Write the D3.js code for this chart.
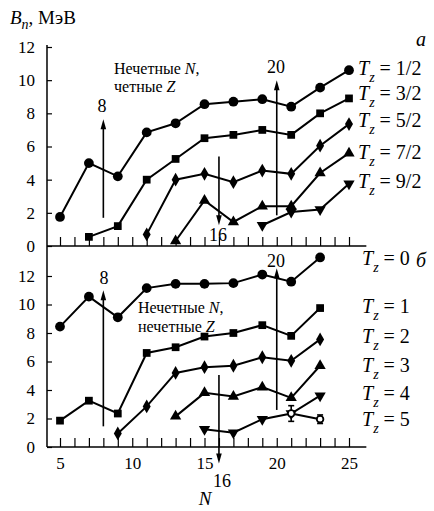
<!DOCTYPE html>
<html>
<head>
<meta charset="utf-8">
<script src="https://cdn.jsdelivr.net/npm/d3@7"></script>
<style>
  html, body { margin: 0; padding: 0; background: #fff; }
  svg { display: block; }
  text { font-family: "Liberation Serif", "Times New Roman", "DejaVu Serif", serif; }
</style>
</head>
<body>
<div id="chart"></div>
<script>
// panel a: odd N, even Z
const nA12 = [5, 7, 9, 11, 13, 15, 17, 19, 21, 23, 25]
const bA12 = [1.75, 5.0, 4.2, 6.85, 7.4, 8.55, 8.7, 8.85, 8.4, 9.55, 10.6]
const nA32 = [7, 9, 11, 13, 15, 17, 19, 21, 23, 25]
const bA32 = [0.55, 1.2, 4.0, 5.25, 6.5, 6.7, 7.0, 6.7, 8.0, 8.9]
const nA52 = [11, 13, 15, 17, 19, 21, 23, 25]
const bA52 = [0.7, 4.0, 4.35, 3.85, 4.55, 4.35, 6.05, 7.35]
const nA72 = [13, 15, 17, 19, 21, 23, 25]
const bA72 = [0.3, 2.75, 1.45, 2.4, 2.4, 4.4, 5.6]
const nA92 = [19, 21, 23, 25]
const bA92 = [1.25, 2.05, 2.2, 3.75]

// panel б: odd N, odd Z
const nB0 = [5, 7, 9, 11, 13, 15, 17, 19, 21, 23]
const bB0 = [8.45, 10.55, 9.1, 11.15, 11.45, 11.45, 11.5, 12.1, 11.6, 13.3]
const nB1 = [5, 7, 9, 11, 13, 15, 17, 19, 21, 23]
const bB1 = [1.85, 3.25, 2.35, 6.6, 7.0, 7.75, 8.0, 8.55, 7.8, 9.75]
const nB2 = [9, 11, 13, 15, 17, 19, 21, 23]
const bB2 = [0.95, 2.85, 5.2, 5.6, 5.7, 6.3, 6.05, 7.55]
const nB3 = [13, 15, 17, 19, 21, 23]
const bB3 = [2.15, 3.8, 3.55, 4.2, 3.45, 5.7]
const nB4 = [15, 17, 19, 21, 23]
const bB4 = [1.25, 1.0, 1.95, 2.35, 3.6]
const nB5 = [21, 23]
const bB5 = [2.35, 1.95]
const eB5 = [0.55, 0.3]

const yTicks = [0, 2, 4, 6, 8, 10, 12]
const xTickLabels = [5, 10, 15, 20, 25]

const W = 434, H = 511
const svg = d3.select('#chart').append('svg').attr('width', W).attr('height', H)

const x = d3.scaleLinear().domain([5, 25]).range([60, 349])
const yA = d3.scaleLinear().domain([0, 12]).range([246, 47])
const yB = d3.scaleLinear().domain([0, 12]).range([447, 276])
const FS = 17

function drawPanel(y, top, labels) {
    const g = svg.append('g')
    const x0 = x(4.1), x1 = x(26.2)
    // axis lines
    g.append('line').attr('x1', x0).attr('x2', x0).attr('y1', y(0)).attr('y2', top)
        .attr('stroke', '#000').attr('stroke-width', 1.5)
    g.append('line').attr('x1', x0).attr('x2', x1).attr('y1', y(0)).attr('y2', y(0))
        .attr('stroke', '#000').attr('stroke-width', 1.5)

    const xAxis = d3.axisBottom(x).tickValues(d3.range(5, 26)).tickSizeInner(-9).tickSizeOuter(0).tickFormat('')
    const gx = g.append('g').attr('transform', `translate(0,${y(0)})`).call(xAxis)
    gx.select('.domain').remove()
    gx.selectAll('line').attr('stroke', '#000').attr('stroke-width', 1.2)

    if (labels) {
        const gl = g.append('g').attr('transform', `translate(0,${y(0)})`)
            .call(d3.axisBottom(x).tickValues(xTickLabels).tickSize(0).tickPadding(10))
        gl.select('.domain').remove()
        gl.attr('font-size', FS)
        gl.selectAll('text').attr('fill', '#000')
    }

    const yAxis = d3.axisLeft(y).tickValues(yTicks).tickSizeInner(-5).tickSizeOuter(0).tickPadding(12)
    const gy = g.append('g').attr('transform', `translate(${x0},0)`).call(yAxis)
    gy.select('.domain').remove()
    gy.attr('font-size', FS)
    gy.selectAll('line').attr('stroke', '#000').attr('stroke-width', 1.2)
    gy.selectAll('text').attr('fill', '#000')
    return g
}

function drawSeries(g, y, ns, vs, type, size, flip) {
    const pts = ns.map((n, i) => ({ n: n, v: vs[i] }))
    const line = d3.line().x(d => x(d.n)).y(d => y(d.v))
    g.append('path').datum(pts).attr('d', line)
        .attr('fill', 'none').attr('stroke', '#000').attr('stroke-width', 2)
    g.selectAll(null).data(pts).enter().append('path')
        .attr('d', d3.symbol().type(type).size(size))
        .attr('transform', d => `translate(${x(d.n)},${y(d.v)})` + (flip ? ' rotate(180)' : ''))
        .attr('fill', '#000')
}

function drawArrow(g, n, y, from, to, label, lx, ly) {
    const xp = x(n)
    const y1 = y(from), y2 = y(to)
    const dir = y2 < y1 ? 1 : -1
    g.append('line').attr('x1', xp).attr('x2', xp).attr('y1', y1).attr('y2', y2 + dir * 6)
        .attr('stroke', '#000').attr('stroke-width', 1.6)
    g.append('path')
        .attr('d', `M${xp},${y2} L${xp - 2.8},${y2 + dir * 10} L${xp + 2.8},${y2 + dir * 10} Z`)
        .attr('fill', '#000')
    g.append('text').attr('x', lx).attr('y', ly).attr('text-anchor', 'middle')
        .attr('font-size', FS + 1).text(label)
}

function tzLabel(g, xp, yp, val) {
    const t = g.append('text').attr('x', xp).attr('y', yp).attr('font-size', 20)
    t.append('tspan').attr('font-style', 'italic').text('T')
    t.append('tspan').attr('font-style', 'italic').attr('font-size', 14).attr('dy', 7).text('z')
    t.append('tspan').attr('dy', -7).text('\u00a0=\u00a0' + val)
}

// two-line note, kept in one text element
function note(g, x0, y0, gap, first, second) {
    const t = g.append('text').attr('font-size', 16)
    t.append('tspan').attr('x', x0).attr('y', y0).text(first + '\u00a0')
    t.append('tspan').attr('font-style', 'italic').text('N')
    t.append('tspan').text(',')
    t.append('tspan').attr('x', x0).attr('y', y0 + gap).text(second + '\u00a0')
    t.append('tspan').attr('font-style', 'italic').text('Z')
}

// ---------- panel a ----------
const gA = drawPanel(yA, 45, false)
drawSeries(gA, yA, nA12, bA12, d3.symbolCircle, 75)
drawSeries(gA, yA, nA32, bA32, d3.symbolSquare, 60)
drawSeries(gA, yA, nA52, bA52, d3.symbolDiamond, 55)
drawSeries(gA, yA, nA72, bA72, d3.symbolTriangle, 55)
drawSeries(gA, yA, nA92, bA92, d3.symbolTriangle, 55, true)

drawArrow(gA, 8, yA, 1.7, 7.65, '8', 102, 112)
drawArrow(gA, 20, yA, 1.85, 10.0, '20', 276, 73)
drawArrow(gA, 16, yA, 5.4, 1.25, '16', 218, 241)

const tzA = [['1/2', 10.65], ['3/2', 9.15], ['5/2', 7.55], ['7/2', 5.6], ['9/2', 3.85]]
tzA.forEach(d => tzLabel(gA, 358, yA(d[1]) + 6, d[0]))

gA.append('text').attr('x', 421).attr('y', 46).attr('font-size', 20)
    .attr('font-style', 'italic').attr('text-anchor', 'middle').text('a')

note(gA, 114, 74, 18, 'Нечетные', 'четные')

// ---------- panel б ----------
const gB = drawPanel(yB, 246, true)
drawSeries(gB, yB, nB0, bB0, d3.symbolCircle, 75)
drawSeries(gB, yB, nB1, bB1, d3.symbolSquare, 60)
drawSeries(gB, yB, nB2, bB2, d3.symbolDiamond, 55)
drawSeries(gB, yB, nB3, bB3, d3.symbolTriangle, 55)
drawSeries(gB, yB, nB4, bB4, d3.symbolTriangle, 55, true)

// T_z = 5: open markers with error bars
const pB5 = nB5.map((n, i) => ({ n: n, v: bB5[i], e: eB5[i] }))
gB.append('path').datum(pB5).attr('d', d3.line().x(d => x(d.n)).y(d => yB(d.v)))
    .attr('fill', 'none').attr('stroke', '#000').attr('stroke-width', 2)
pB5.forEach(d => {
    const xp = x(d.n)
    gB.append('line').attr('x1', xp).attr('x2', xp).attr('y1', yB(d.v - d.e)).attr('y2', yB(d.v + d.e))
        .attr('stroke', '#000').attr('stroke-width', 1.6)
    ;[d.v - d.e, d.v + d.e].forEach(v => {
        gB.append('line').attr('x1', xp - 3).attr('x2', xp + 3).attr('y1', yB(v)).attr('y2', yB(v))
            .attr('stroke', '#000').attr('stroke-width', 1.6)
    })
    gB.append('circle').attr('cx', xp).attr('cy', yB(d.v)).attr('r', 3.3)
        .attr('fill', '#fff').attr('stroke', '#000').attr('stroke-width', 1.8)
})

drawArrow(gB, 8, yB, 1.45, 11.0, '8', 104, 284)
drawArrow(gB, 20, yB, 2.6, 12.55, '20', 276, 267)
drawArrow(gB, 16, yB, 5.05, -1.15, '16', 222, 487)

const tzB = [['0', 13.2], ['1', 9.8], ['2', 7.7], ['3', 5.65], ['4', 3.7], ['5', 1.9]]
tzB.forEach(d => tzLabel(gB, 362, yB(d[1]) + 6, d[0]))

gB.append('text').attr('x', 421).attr('y', 267).attr('font-size', 20)
    .attr('font-style', 'italic').attr('text-anchor', 'middle').text('б')

note(gB, 138, 313, 19, 'Нечетные', 'нечетные')

// axis titles
const yt = svg.append('text').attr('x', 10).attr('y', 24).attr('font-size', 19)
yt.append('tspan').attr('font-style', 'italic').text('B')
yt.append('tspan').attr('font-style', 'italic').attr('font-size', 14).attr('dy', 5).text('n')
yt.append('tspan').attr('dy', -5).text(', МэВ')

svg.append('text').attr('x', 205).attr('y', 505).attr('font-size', 19)
    .attr('font-style', 'italic').attr('text-anchor', 'middle').text('N')
</script>
</body>
</html>
